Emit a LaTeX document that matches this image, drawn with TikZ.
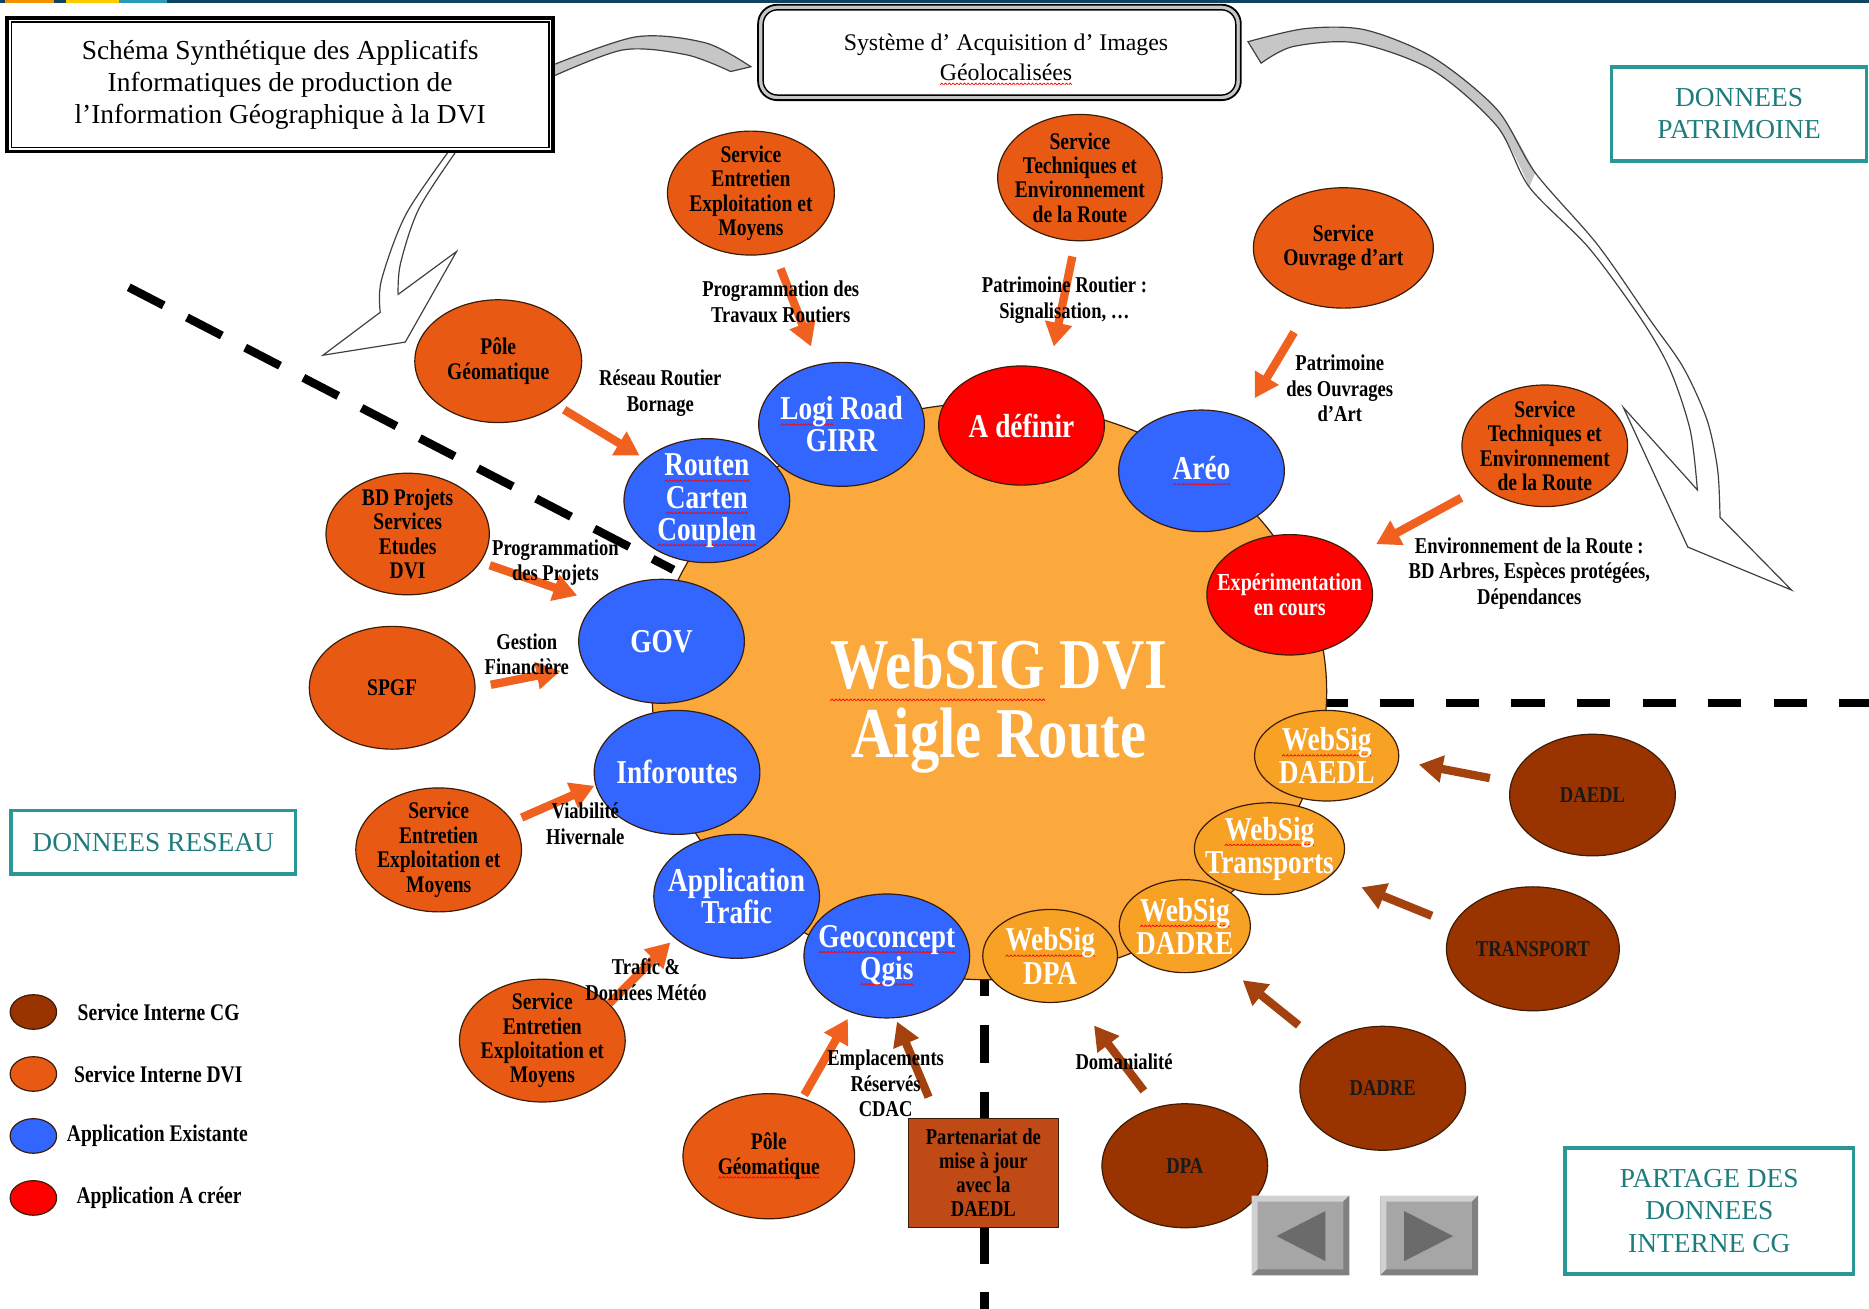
\documentclass[tikz,border=0pt]{standalone}
\usepackage{fontspec}
\setmainfont{Liberation Serif}
\newfontfamily\condf{Liberation Serif}[FakeStretch=0.82]
\usetikzlibrary{shapes.geometric, arrows.meta}
\definecolor{dviOrange}{HTML}{E85A14}
\definecolor{cgBrown}{HTML}{993300}
\definecolor{appBlue}{HTML}{3366FF}
\definecolor{appRed}{HTML}{FF0000}
\definecolor{blobOrange}{HTML}{FBA93D}
\definecolor{webOrange}{HTML}{F7A125}
\definecolor{feedOrange}{HTML}{F0601E}
\definecolor{feedBrown}{HTML}{A3420E}
\definecolor{partnerFill}{HTML}{BF4A16}
\definecolor{tealLine}{HTML}{2A9696}
\definecolor{tealText}{HTML}{1F7C7C}
\definecolor{edgeDark}{HTML}{3A1C08}
\definecolor{bandGray}{HTML}{C6C6C6}
\definecolor{stripNavy}{HTML}{0E4460}
\definecolor{stripOrange}{HTML}{F39200}
\definecolor{stripYellow}{HTML}{FFCC00}
\definecolor{stripTeal}{HTML}{2B9BB5}
\newcommand\spell[1]{\setbox0\hbox{#1}\rlap{\lower.18em\hbox to\wd0{\xleaders\hbox{\tikz[x=1pt,y=1pt]\draw[red,line width=0.6pt,line cap=round] (0,0) -- (1.25,1.3) -- (2.5,0);}\hfil}}\box0\relax}

\begin{document}
\begin{tikzpicture}[x=1pt, y=-1pt,
    bubble/.style={ellipse, draw=edgeDark, line width=1pt, inner sep=-30pt, align=center},
    svc/.style={bubble, fill=dviOrange, font=\condf\bfseries\fontsize{20}{20.5}\selectfont, minimum width=139pt, minimum height=104pt},
    cg/.style={bubble, fill=cgBrown, text=black!90, font=\condf\bfseries\fontsize{19}{20}\selectfont, minimum width=139pt, minimum height=104pt},
    app/.style={bubble, fill=appBlue, text=white, font=\condf\bfseries\fontsize{28}{27}\selectfont, minimum width=139pt, minimum height=104pt},
    newapp/.style={app, fill=appRed},
    websig/.style={bubble, fill=webOrange, text=white, font=\condf\bfseries\fontsize{28}{28}\selectfont},
    feed/.style={draw=feedOrange, line width=7pt, -{Triangle[length=20pt, width=22pt]}},
    feedcg/.style={feed, draw=feedBrown},
    lbl/.style={font=\condf\bfseries\fontsize{19}{21.5}\selectfont, align=center, inner sep=0pt},
    tealbox/.style={draw=tealLine, line width=3pt, text=tealText, font=\fontsize{23}{27}\selectfont, align=center, inner sep=0pt},
    band/.style={draw=black!75, line width=1pt},
    sepline/.style={line width=7pt},
  ]
  \useasboundingbox (0,0) rectangle (1568,1098);

  \fill[stripNavy] (0,0) rectangle (1568,2.5);
  \fill[stripOrange] (4,0) rectangle (45,2.5);
  \fill[stripYellow] (55,0) rectangle (100,2.5);
  \fill[stripTeal] (100,0) rectangle (140,2.5);

  % curved arrows behind the boxes
  \draw[band, fill=bandGray] plot[smooth] coordinates {(455,58) (533,31) (592,36) (630,56)}
    -- plot[smooth] coordinates {(613,60) (576,46) (522,42) (455,68)} -- cycle;
  \draw[band] plot[smooth] coordinates {(383,118) (341,179) (320,235) (319,262)}
    -- (271,298) -- (340,287) -- (383,211)
    -- plot[smooth] coordinates {(334,247) (336,221) (352,174) (389,118)} -- cycle;
  \fill[bandGray] plot[smooth] coordinates {(1047,35) (1095,24) (1145,25) (1202,48) (1256,92) (1288,145)}
    -- plot[smooth] coordinates {(1283,157) (1256,106) (1202,59) (1138,36) (1085,39) (1058,53)} -- cycle;
  \draw[band] plot[smooth] coordinates {(1047,35) (1095,24) (1145,25) (1202,48) (1256,92) (1288,145)
      (1340,205) (1384,268) (1412,308) (1432,352) (1441,394) (1443,434)}
    -- (1503,495) -- (1416,459) -- (1362,342)
    -- plot[smooth] coordinates {(1424,411) (1418,361) (1401,310) (1377,268) (1333,208) (1283,157)
      (1256,106) (1202,59) (1138,36) (1085,39) (1058,53)} -- cycle;

  % separators
  \draw[sepline, dash pattern=on 33pt off 22pt] (108,241) -- (565,478);
  \draw[sepline, dash pattern=on 28pt off 27pt] (1103,590) -- (1568,590);
  \draw[sepline, dash pattern=on 32pt off 24pt] (826,804) -- (826,1098);

  \node[ellipse, draw=edgeDark, line width=1pt, fill=blobOrange, minimum width=566pt, minimum height=484pt, inner sep=0pt] (blob) at (830,580) {};
  \node[font=\condf\bfseries\fontsize{60}{58}\selectfont, text=white, align=center] (blobText) at (838,592) {\spell{WebSIG} DVI\\Aigle Route};

  \node[websig, minimum width=121pt, minimum height=76pt] (wdaedl) at (1113,634) {\spell{WebSig}\\DAEDL};
  \node[websig, minimum width=126pt, minimum height=77pt] (wtr) at (1065,712) {\spell{WebSig}\\Transports};
  \node[websig, minimum width=110pt, minimum height=78pt] (wdadre) at (994,777) {\spell{WebSig}\\DADRE};
  \node[websig, minimum width=113pt, minimum height=78pt] (wdpa) at (881,802) {\spell{WebSig}\\DPA};

  \node[app] (logi) at (706,356) {\spell{Logi} Road\\GIRR};
  \node[app] (routen) at (593,420) {\spell{Routen}\\\spell{Carten}\\\spell{Couplen}};
  \node[newapp, minimum height=100pt] (adef) at (857,357) {A définir};
  \node[app, minimum height=102pt] (areo) at (1008,395) {\spell{Aréo}};
  \node[newapp, minimum height=101pt, font=\condf\bfseries\fontsize{20.5}{21}\selectfont] (expe) at (1082,499) {Expérimentation\\en cours};
  \node[app] (gov) at (555,538) {GOV};
  \node[app] (infor) at (568,648) {Inforoutes};
  \node[app] (trafic) at (618,752) {Application\\Trafic};
  \node[app] (geo) at (744,802) {\spell{Geoconcept}\\\spell{Qgis}};

  \node[svc, minimum width=140pt] (s1) at (630,162) {Service\\Entretien\\Exploitation et\\Moyens};
  \node[svc, minimum width=138pt, minimum height=106pt] (s2) at (906,149) {Service\\Techniques et\\Environnement\\de la Route};
  \node[svc, minimum width=151pt, minimum height=101pt] (s3) at (1127,208) {Service\\Ouvrage d’art};
  \node[svc, minimum height=102pt] (s4) at (1296,374) {Service\\Techniques et\\Environnement\\de la Route};
  \node[svc, minimum width=140pt, minimum height=103pt] (poleA) at (418,303) {Pôle\\Géomatique};
  \node[svc, minimum width=137pt, minimum height=102pt] (bdproj) at (342,448) {BD Projets\\Services\\Etudes\\DVI};
  \node[svc, minimum height=103pt] (spgf) at (329,577) {SPGF};
  \node[svc] (seemL) at (368,713) {Service\\Entretien\\Exploitation et\\Moyens};
  \node[svc, minimum height=103pt] (seemB) at (455,873) {Service\\Entretien\\Exploitation et\\Moyens};
  \node[svc, minimum width=144pt, minimum height=105pt] (poleB) at (645,970) {Pôle\\\spell{Géomatique}};

  \node[cg, minimum height=102pt] (daedl) at (1336,667) {DAEDL};
  \node[cg, minimum width=145pt] (transp) at (1286,796) {TRANSPORT};
  \node[cg] (dadre) at (1160,913) {DADRE};
  \node[cg] (dpa) at (994,978) {DPA};

  \node[draw=edgeDark, line width=1pt, fill=partnerFill, minimum width=126pt, minimum height=91pt, inner sep=0pt,
    font=\condf\bfseries\fontsize{19}{20}\selectfont, align=center] (partner) at (825,984) {Partenariat de\\mise à jour\\avec la\\DAEDL};

  \draw[feed, shorten <=14pt, shorten >=16pt] (s1) -- (logi);
  \draw[feed, shorten <=13pt, shorten >=19pt] (s2.-94) -- (adef.64);
  \draw[feed, shorten <=27pt, shorten >=19pt] (s3.-120) -- (areo.52);
  \draw[feed, shorten <=20pt, shorten >=21pt] (s4.-147) -- (expe.31);
  \draw[feed, shorten <=7pt, shorten >=5pt] (poleA.-37) -- (routen.146);
  \draw[feed, shorten <=8pt, shorten >=17pt] (bdproj.-21) -- (gov.149);
  \draw[feed, shorten <=13pt, shorten >=21pt] (spgf.0) -- (gov.-162);
  \draw[feed, shorten <=8pt, shorten >=1pt] (seemL.21) -- (infor.-171);
  \draw[feed, shorten >=5pt] (seemB.29) -- (trafic.-146);
  \draw[feed, shorten <=3pt, shorten >=6pt] (poleB.60) -- (geo.-122);
  \draw[feedcg, shorten <=19pt, shorten >=3pt] (partner.130) -- (geo.-82);
  \draw[feedcg, shorten <=17pt, shorten >=27pt] (dpa.116) -- (wdpa.-61);
  \draw[feedcg, shorten <=26pt, shorten >=21pt] (dadre.144) -- (wdadre.-45);
  \draw[feedcg, shorten <=19pt, shorten >=27pt] (transp.163) -- (wtr.-23);
  \draw[feedcg, shorten <=18pt, shorten >=17pt] (daedl.171) -- (wdaedl.-4);

  \node[lbl] (lProgTrav) at (655,253) {Programmation des\\Travaux Routiers};
  \node[lbl] (lPatRout) at (893,252) {Patrimoine Routier :\\Signalisation, …};
  \node[lbl] (lPatOuv) at (1124,326) {Patrimoine\\des Ouvrages\\d’Art};
  \node[lbl] (lReseau) at (554,330) {Réseau Routier\\Bornage};
  \node[lbl] (lProgProj) at (466,472) {Programmation\\des Projets};
  \node[lbl] (lGestion) at (442,549) {Gestion\\Financière};
  \node[lbl] (lViab) at (491,691) {Viabilité\\Hivernale};
  \node[lbl] (lTrafic) at (542,822) {Trafic \&\\Données Météo};
  \node[lbl] (lEmpl) at (743,909) {Emplacements\\Réservés\\CDAC};
  \node[lbl] (lDomain) at (943,891) {Domanialité};
  \node[lbl] (lEnv) at (1283,481) {Environnement de la Route :\\BD Arbres, Espèces protégées,\\Dépendances};

  % boxes
  \node[draw, line width=3pt, fill=white, minimum width=458pt, minimum height=112pt, inner sep=0pt,
    font=\fontsize{23}{27}\selectfont, align=center] (ttl) at (235,71)
    {Schéma Synthétique des Applicatifs\\Informatiques de production de\\l’Information Géographique à la DVI};
  \draw[line width=1pt] ([shift={(5,5)}]ttl.north west) rectangle ([shift={(-5,-5)}]ttl.south east);

  \node[draw, line width=1.5pt, rounded corners=16pt, fill=bandGray, minimum width=405pt, minimum height=80pt] (sys) at (838.5,44) {};
  \draw[line width=1.2pt, fill=white, rounded corners=12pt] ([shift={(5,5)}]sys.north west) rectangle ([shift={(-5,-5)}]sys.south east);
  \node[font=\fontsize{20}{25}\selectfont, align=center] (sysText) at (844,50) {Système d’ Acquisition d’ Images\\\spell{Géolocalisées}};

  \node[tealbox, minimum width=214pt, minimum height=79pt] (patri) at (1459,95.5) {DONNEES\\PATRIMOINE};
  \node[tealbox, minimum width=239pt, minimum height=53pt] (reseau) at (128.5,706.5) {DONNEES RESEAU};
  \node[tealbox, minimum width=242pt, minimum height=106pt] (partage) at (1434,1016) {PARTAGE DES\\DONNEES\\INTERNE CG};

  % legend
  \foreach \y/\x/\c/\t [count=\i] in {849/65/cgBrown/Service Interne CG, 901/62/dviOrange/Service Interne DVI,
      953/56/appBlue/Application Existante, 1005/64/appRed/Application A créer} {
    \node[ellipse, draw=edgeDark, line width=1pt, fill=\c, minimum width=39pt, minimum height=29pt, inner sep=0pt] (key\i) at (28,\y) {};
    \node[anchor=west, inner sep=0pt, font=\condf\bfseries\fontsize{20}{20}\selectfont] (keyText\i) at (\x,\y) {\t};
  }

  % page buttons
  \foreach \bx in {1050,1158} {
    \begin{scope}[shift={(\bx,1003)}]
      \fill[black!35] (0,0) rectangle (82,67);
      \fill[black!18] (0,0) -- (82,0) -- (77,5) -- (5,5) -- (5,62) -- (0,67) -- cycle;
      \fill[black!50] (82,0) -- (82,67) -- (0,67) -- (5,62) -- (77,62) -- (77,5) -- cycle;
    \end{scope}
  }
  \fill[black!58] (1071,1037) -- (1112,1016) -- (1112,1058) -- cycle;
  \fill[black!58] (1178,1016) -- (1178,1058) -- (1219,1037) -- cycle;
\end{tikzpicture}
\end{document}
